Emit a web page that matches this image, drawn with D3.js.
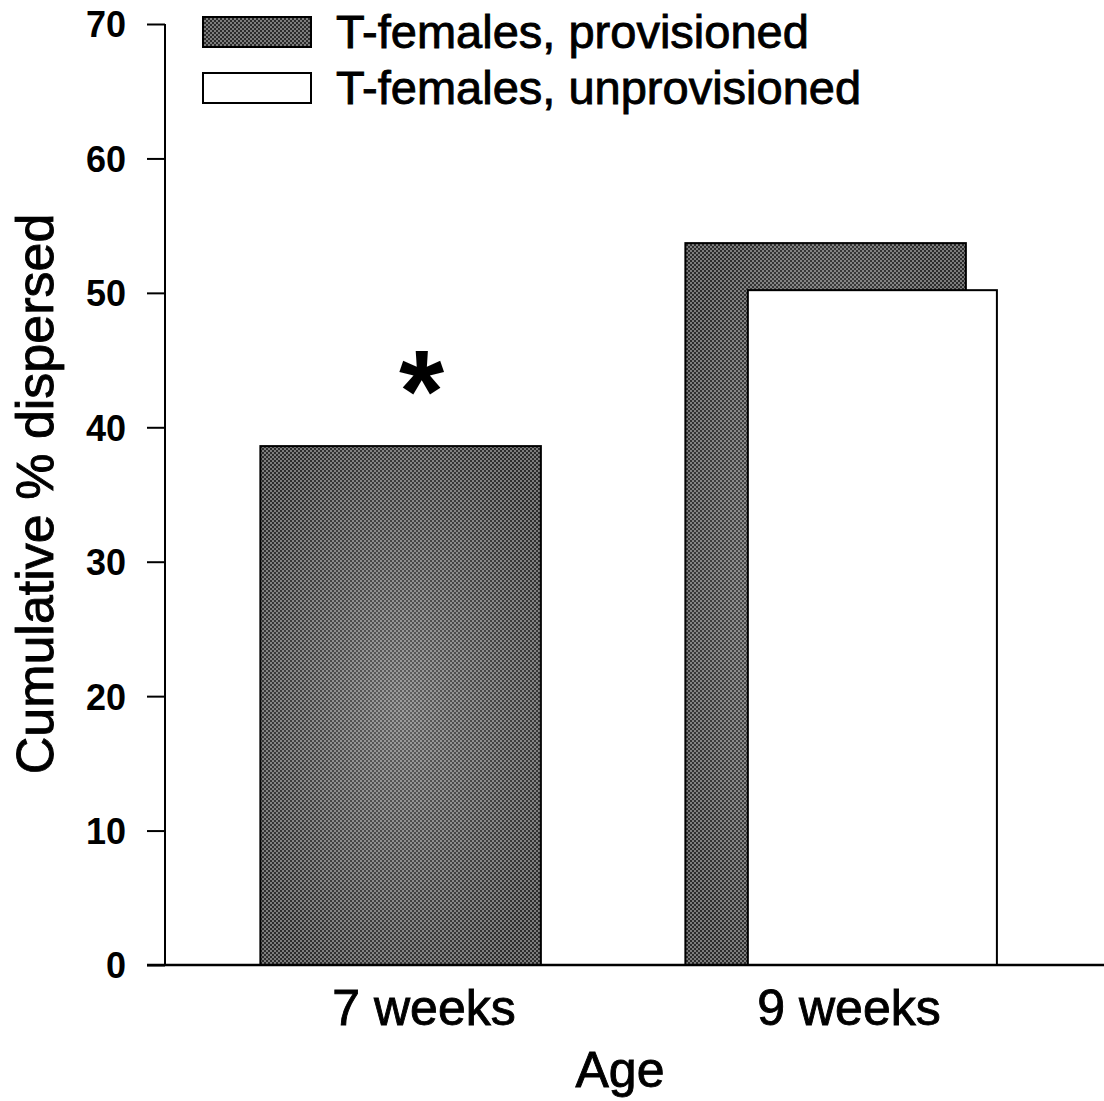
<!DOCTYPE html>
<html>
<head>
<meta charset="utf-8">
<script src="https://cdn.jsdelivr.net/npm/d3@7"></script>
<style>
  html, body { margin: 0; padding: 0; background: #fff; }
  svg { display: block; }
  text { font-family: "Liberation Sans", Arial, Helvetica, sans-serif; fill: #000; }
  .heavy { stroke: #000; stroke-width: 0.9px; }
</style>
</head>
<body>
<div id="chart"></div>
<script>
// Age classes on the x axis
const categories = ["7 weeks", "9 weeks"];
// Cumulative % dispersed, one value per age class (null = no bar)
const provisioned = [38.6, 53.7];
const unprovisioned = [null, 50.2];
// Series names shown in the legend
const seriesNames = ["T-females, provisioned", "T-females, unprovisioned"];
// Y axis ticks
const yTicks = [0, 10, 20, 30, 40, 50, 60, 70];
// Significance marks above bars
const marks = [{ category: "7 weeks", series: 0, text: "*" }];

const W = 1104, H = 1101;
const svg = d3.select("#chart").append("svg")
  .attr("width", W).attr("height", H);

const defs = svg.append("defs");

// halftone stipple used for the provisioned bars
const pat = defs.append("pattern")
  .attr("id", "stipple")
  .attr("patternUnits", "userSpaceOnUse")
  .attr("width", 4).attr("height", 4);
pat.append("rect").attr("width", 4).attr("height", 4).attr("fill", "#2c2c2c");
pat.append("circle").attr("cx", 1).attr("cy", 1).attr("r", 0.95).attr("fill", "#a0a0a0");
pat.append("circle").attr("cx", 3).attr("cy", 3).attr("r", 0.95).attr("fill", "#a0a0a0");

// soft lightening towards the middle of each stippled bar
const glow = defs.append("radialGradient")
  .attr("id", "glow").attr("cx", "50%").attr("cy", "50%").attr("r", "60%");
glow.append("stop").attr("offset", "0%").attr("stop-color", "#fff").attr("stop-opacity", 0.25);
glow.append("stop").attr("offset", "70%").attr("stop-color", "#fff").attr("stop-opacity", 0.08);
glow.append("stop").attr("offset", "100%").attr("stop-color", "#fff").attr("stop-opacity", 0);

const plot = { left: 165, right: 1104, top: 24, bottom: 965 };

const y = d3.scaleLinear().domain([0, 70]).range([plot.bottom, plot.top]);
const x = d3.scaleBand().domain(categories).range([211.5, 1061.5]);

// where each series sits inside its category band (fractions of the band)
const seriesLayout = [
  { values: provisioned, from: 0.115, to: 0.775, fill: "url(#stipple)", glow: true },
  { values: unprovisioned, from: 0.262, to: 0.848, fill: "#fff", glow: false }
];

const barsG = svg.append("g");
seriesLayout.forEach((s, si) => {
  const data = categories.map((c, i) => ({ c, v: s.values[i] })).filter(d => d.v != null);
  const g = barsG.append("g");
  const bx = d => x(d.c) + s.from * x.bandwidth();
  const bw = (s.to - s.from) * x.bandwidth();
  g.selectAll("rect.bar").data(data).join("rect")
    .attr("class", "bar")
    .attr("x", bx)
    .attr("y", d => y(d.v))
    .attr("width", bw)
    .attr("height", d => y(0) - y(d.v))
    .attr("fill", s.fill)
    .attr("stroke", "#000")
    .attr("stroke-width", 2);
  if (s.glow) {
    g.selectAll("rect.glow").data(data).join("rect")
      .attr("class", "glow")
      .attr("x", bx)
      .attr("y", d => y(d.v))
      .attr("width", bw)
      .attr("height", d => y(0) - y(d.v))
      .attr("fill", "url(#glow)");
  }
});

// significance asterisk
marks.forEach(m => {
  const s = seriesLayout[m.series];
  const i = categories.indexOf(m.category);
  const cx = x(m.category) + (s.from + s.to) / 2 * x.bandwidth();
  svg.append("text")
    .attr("x", cx + 21)
    .attr("y", y(s.values[i]) - 14)
    .attr("text-anchor", "middle")
    .attr("font-size", 116)
    .attr("font-weight", "bold")
    .text(m.text);
});

// Y axis
const yAxis = d3.axisLeft(y).tickValues(yTicks).tickSize(18).tickPadding(21)
  .tickFormat(d3.format("d"));
const yG = svg.append("g").attr("transform", `translate(${plot.left},0)`).call(yAxis);
yG.select(".domain").remove();
yG.selectAll(".tick line").attr("stroke", "#000").attr("stroke-width", 2);
yG.selectAll(".tick text")
  .attr("font-family", "Liberation Sans, Arial, sans-serif")
  .attr("font-size", 36).attr("font-weight", "bold").attr("dy", "0.36em").attr("fill", "#000");
svg.append("line")
  .attr("x1", plot.left).attr("x2", plot.left)
  .attr("y1", y(70)).attr("y2", y(0))
  .attr("stroke", "#000").attr("stroke-width", 2);

// X axis line, running from the zero tick to the right edge
svg.append("line")
  .attr("x1", plot.left - 18).attr("x2", plot.right)
  .attr("y1", y(0)).attr("y2", y(0))
  .attr("stroke", "#000").attr("stroke-width", 2.5);

// category labels
const xAxis = d3.axisBottom(x).tickSize(0).tickPadding(0);
const xG = svg.append("g").attr("transform", `translate(0,${plot.bottom})`).call(xAxis);
xG.select(".domain").remove();
xG.selectAll(".tick text")
  .attr("class", "heavy")
  .attr("font-family", "Liberation Sans, Arial, sans-serif")
  .attr("font-size", 50).attr("fill", "#000")
  .attr("dy", 0).attr("y", 60);

// axis titles
svg.append("text")
  .attr("class", "heavy")
  .attr("x", 620).attr("y", 1087)
  .attr("text-anchor", "middle").attr("font-size", 50)
  .text("Age");
svg.append("text")
  .attr("class", "heavy")
  .attr("transform", "translate(53,494) rotate(-90)")
  .attr("text-anchor", "middle").attr("font-size", 52)
  .text("Cumulative % dispersed");

// legend
const legend = svg.append("g");
const legendFills = ["url(#stipple)", "#fff"];
seriesNames.forEach((name, i) => {
  const gy = 17 + i * 56;
  legend.append("rect")
    .attr("x", 203).attr("y", gy).attr("width", 108).attr("height", 30)
    .attr("fill", legendFills[i]).attr("stroke", "#000").attr("stroke-width", 2);
  legend.append("text")
    .attr("class", "heavy")
    .attr("x", 336).attr("y", gy + 31)
    .attr("font-size", 47)
    .text(name);
});
</script>
</body>
</html>
